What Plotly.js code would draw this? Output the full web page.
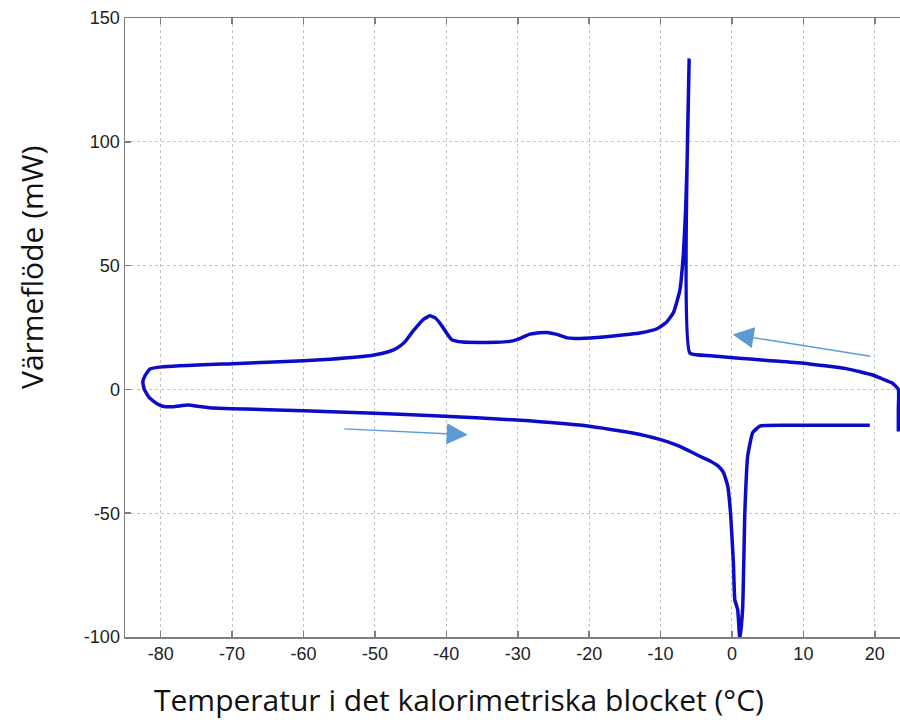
<!DOCTYPE html>
<html>
<head>
<meta charset="utf-8">
<script src="https://cdn.plot.ly/plotly-3.0.1.min.js"></script>
<style>html,body{margin:0;padding:0;background:#fff;}#chart{width:900px;height:720px;}</style>
</head>
<body>
<div id="chart"></div>
<script>
// Temperature in the calorimetric block (°C), in measurement order
var temperature = [23.3, 23.3, 23.3, 22.5, 21, 19.7, 16, 10, 5, 1, -3, -5.9,
  -6.0, -6.15, -6.3, -6.5, -6.8, -7.3, -8.2, -9.2, -10.5, -12.9, -14.3, -18.9,
  -22, -23.1, -24.5, -25.9, -27, -28.3, -30, -31.1, -33, -37.7, -39.3, -40.9,
  -41.6, -42.3, -43.2, -44.7, -45.8, -46.9, -48, -50.3, -56.3, -60, -70, -79.8,
  -81.5, -82.2, -82.5, -82.3, -81.6, -80.5, -79.7, -78.3, -76.2, -74.5, -72.7,
  -70, -60, -50, -46.5, -40.2, -30.1, -20.2, -13.9, -10.1, -7.3, -5.9, -4.5, -3,
  -2, -1.2, -0.6, -0.2, 0.2, 0.4, 0.8, 1.1, 1.5, 1.8, 2.2, 2.9, 3.9, 8, 19.3];
// Heat flow (mW)
var heatFlow = [-17, -8, 0, 2.5, 4.3, 5.8, 8.4, 10.6, 11.7, 12.6, 13.6, 14.7,
  133, 110, 90, 72, 55, 40, 31, 27, 24.5, 22.8, 22.3, 21,
  20.6, 20.8, 22.2, 23, 22.9, 22.3, 20.2, 19.4, 19, 19.1, 20.2, 26.8,
  29, 29.7, 28.3, 23.4, 19.2, 16.7, 15.3, 13.8, 12.2, 11.6, 10.4, 9.1,
  8.2, 5.5, 3, 0, -3.3, -5.8, -6.8, -7, -6.3, -6.9, -7.5,
  -7.8, -8.6, -9.6, -10, -10.8, -12.4, -14.8, -17.6, -20.2, -23, -25, -27, -29,
  -30.8, -33.5, -39, -50, -70, -85, -89, -101, -88, -50, -27, -17.5, -14.8, -14.5, -14.5];

var xTicks = [-80, -70, -60, -50, -40, -30, -20, -10, 0, 10, 20];
var xTickText = ['-80', '-70', '-60', '-50', '-40', '-30', '-20', '-10', '0', '10', '20'];
var yTicks = [-100, -50, 0, 50, 100, 150];
var yTickText = ['-100', '-50', '0', '50', '100', '150'];

var xTitle = 'Temperatur i det kalorimetriska blocket (°C)';
var yTitle = 'Värmeflöde (mW)';

// Direction arrows: [tipX, tipY, tailX, tailY]
var arrowCooling = [0.1, 22.2, 19.6, 13.3];
var arrowHeating = [-37, -18.3, -54.5, -15.9];

var trace = {
  x: temperature, y: heatFlow, type: 'scatter', mode: 'lines',
  line: {color: '#0c0cc8', width: 3.5, shape: 'spline', smoothing: 0.4},
  hoverinfo: 'skip'
};

function arrow(a) {
  return {x: a[0], y: a[1], ax: a[2], ay: a[3], xref: 'x', yref: 'y', axref: 'x', ayref: 'y',
    showarrow: true, arrowhead: 2, arrowsize: 3, arrowwidth: 1.4, arrowcolor: '#5b9bd5', text: ''};
}

function axisBase() {
  return {
    showline: true, linecolor: '#7f7f7f', linewidth: 1.5,
    ticks: 'inside', ticklen: 6, tickcolor: '#7f7f7f', tickwidth: 1.5,
    showgrid: true, gridcolor: '#c4c4c4', griddash: 'dot', gridwidth: 1,
    zeroline: false
  };
}

var xaxis = axisBase();
xaxis.range = [-85, 23.53]; xaxis.tickvals = xTicks; xaxis.ticktext = xTickText; xaxis.mirror = 'ticks';
var yaxis = axisBase();
yaxis.range = [-100, 150]; yaxis.tickvals = yTicks; yaxis.ticktext = yTickText; yaxis.mirror = false;

var layout = {
  width: 900, height: 720,
  font: {family: 'Liberation Sans, Arial, sans-serif', size: 18, color: '#222'},
  margin: {l: 125, r: 0, t: 18, b: 83},
  paper_bgcolor: '#fff', plot_bgcolor: '#fff',
  showlegend: false,
  xaxis: xaxis,
  yaxis: yaxis,
  annotations: [
    arrow(arrowCooling), arrow(arrowHeating),
    {text: xTitle, xref: 'paper', yref: 'paper', x: (459 - 125) / 775, y: -(699 - 637) / 619,
      xanchor: 'center', yanchor: 'middle', showarrow: false,
      font: {family: 'Open Sans, sans-serif', size: 30, color: '#111'}},
    {text: yTitle, xref: 'paper', yref: 'paper', x: (31 - 125) / 775, y: (637 - 268) / 619,
      xanchor: 'center', yanchor: 'middle', showarrow: false, textangle: -90,
      font: {family: 'Open Sans, sans-serif', size: 30, color: '#111'}}
  ]
};

Plotly.newPlot('chart', [trace], layout, {displayModeBar: false, staticPlot: true});
</script>
</body>
</html>
